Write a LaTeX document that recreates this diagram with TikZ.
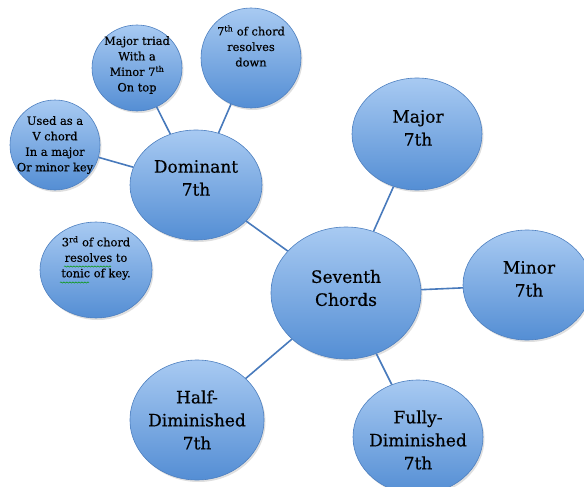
\documentclass[tikz,border=0pt]{standalone}
\usepackage{fontspec}
\setmainfont{DejaVu Serif}[FakeBold=0.45]
\usetikzlibrary{shapes.geometric,shadows,decorations.pathmorphing}
\definecolor{btop}{RGB}{168,202,242}
\definecolor{bbot}{RGB}{84,142,212}
\definecolor{bedge}{RGB}{78,128,192}
\definecolor{link}{RGB}{72,122,188}
\tikzset{
  bubble/.style={ellipse, draw=bedge, line width=0.6pt, top color=btop, bottom color=bbot,
    inner sep=0pt, drop shadow={opacity=0.25, shadow xshift=1.5pt, shadow yshift=-2pt}},
  big/.style={align=center, font=\fontsize{17}{23}\selectfont, text=black},
  small/.style={align=center, font=\fontsize{11.4}{15.5}\selectfont, text=black},
  conn/.style={draw=link, line width=1.6pt},
  spell/.style={draw=green!60!black, line width=0.5pt, decorate, decoration={snake, amplitude=0.6pt, segment length=3pt}}
}
\begin{document}
\begin{tikzpicture}[x=1pt,y=-1pt]
\useasboundingbox (0,0) rectangle (584,487);
% bubbles
\node[bubble, minimum width=132pt, minimum height=110pt] (dom) at (196,185) {};
\node[bubble, minimum width=90pt, minimum height=86pt] (triad) at (137,68) {};
\node[bubble, minimum width=100pt, minimum height=100pt] (res) at (251,58) {};
\node[bubble, minimum width=90pt, minimum height=90pt] (used) at (55,145) {};
\node[bubble, minimum width=112pt, minimum height=96pt] (third) at (96,270) {};
\node[bubble, minimum width=150pt, minimum height=132pt] (sev) at (346,293) {};
\node[bubble, minimum width=130pt, minimum height=112pt] (maj) at (417,134) {};
\node[bubble, minimum width=128pt, minimum height=110pt] (min) at (527,285) {};
\node[bubble, minimum width=130pt, minimum height=114pt] (full) at (418,437) {};
\node[bubble, minimum width=134pt, minimum height=120pt] (half) at (197,420) {};
% texts
\node[big] (domt) at (196,178) {Dominant\\7th};
\node[small] (triadt) at (137,65) {Major triad\\With a\\Minor 7\textsuperscript{th}\\On top};
\node[small] (rest) at (251,46) {7\textsuperscript{th} of chord\\resolves\\down};
\node[small] (usedt) at (55,145) {Used as a\\V chord\\In a major\\Or minor key};
\node[small] (thirdt) at (96,258) {3\textsuperscript{rd} of chord\\resolves to\\tonic of key.};
\node[big] (sevt) at (346,288) {Seventh\\Chords};
\node[big] (majt) at (418,128) {Major\\7th};
\node[big] (mint) at (529,279) {Minor\\7th};
\node[big] (fullt) at (418,440) {Fully-\\Diminished\\7th};
\node[big] (halft) at (197,420) {Half-\\Diminished\\7th};
% spell-check underlines
\draw[spell] (64,266.5) -- (111,266.5);
\draw[spell] (60,282.5) -- (89,282.5);
% connectors
\draw[conn] (dom) -- (triad);
\draw[conn] (dom) -- (res);
\draw[conn] (dom) -- (used);
\draw[conn] (dom) -- (sev);
\draw[conn] (sev) -- (maj);
\draw[conn] (sev) -- (min);
\draw[conn] (sev) -- (full);
\draw[conn] (sev) -- (half);
\end{tikzpicture}
\end{document}
